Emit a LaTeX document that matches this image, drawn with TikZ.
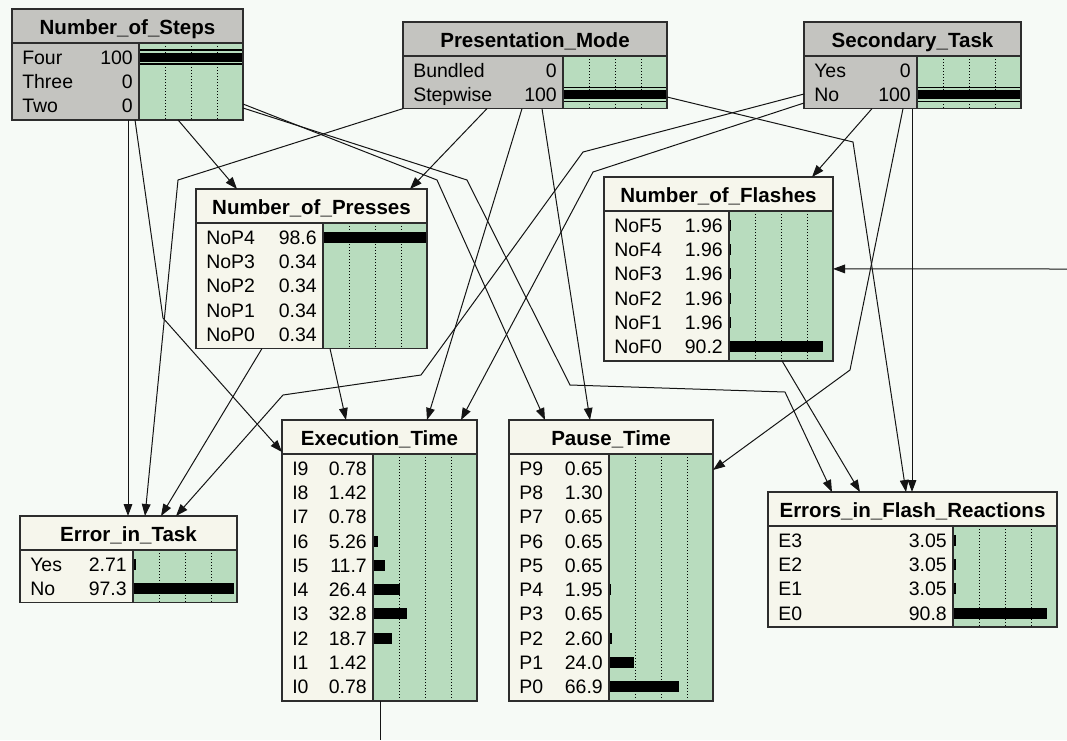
\documentclass[tikz,border=0pt]{standalone}
\usepackage{fontspec}
\setmainfont{Liberation Sans}
\usetikzlibrary{arrows.meta,calc}

\definecolor{bgc}{RGB}{246,250,246}
\definecolor{nodegray}{RGB}{196,196,192}
\definecolor{nodecream}{RGB}{246,246,236}
\definecolor{bargreen}{RGB}{184,220,190}
\definecolor{boxc}{RGB}{45,45,45}
\definecolor{linec}{RGB}{20,20,20}

\tikzset{
  boxline/.style={draw=boxc, line width=1.1pt},
  dotline/.style={draw=black, line width=0.75pt, dash pattern=on 0.75pt off 1.5pt},
  lbl/.style={inner sep=0pt, font=\fontsize{14.6}{16}\selectfont},
  ttl/.style={inner sep=0pt, font=\fontsize{15.4}{17}\selectfont\bfseries},
  link/.style={draw=linec, line width=0.75pt, -{Triangle[length=9pt,width=6.5pt]}},
  plainlink/.style={draw=linec, line width=0.75pt},
}

% Belief-bar box: #1 name, #2 left, #3 top, #4 right, #5 number of states,
% #6 fill of title and label area, #7 title, #8 rows label/value/percent/evidence
\newcommand\bnbox[8]{%
  \pgfmathsetmacro\bntb{#3+34}%
  \pgfmathsetmacro\bnbot{#3+38+24.3*#5}%
  \pgfmathsetmacro\bnsep{#4-104}%
  \fill[#6] (#2,#3) rectangle (#4,\bnbot);
  \fill[bargreen] (\bnsep,\bntb) rectangle (#4,\bnbot);
  \foreach \k in {1,2,3} \draw[dotline] ({\bnsep+26*\k},\bntb) -- ({\bnsep+26*\k},\bnbot);
  \foreach \lab/\val/\pct/\ev [count=\i from 0] in {#8} {%
    \pgfmathsetmacro\bncy{\bntb+2+24.3*(\i+0.5)}%
    \node[lbl,anchor=base west] at (#2+10,\bncy+7) {\lab};
    \node[lbl,anchor=base east] at (\bnsep-6,\bncy+7) {\val};
    \ifnum\ev=1
      \fill (\bnsep,\bncy-4.5) rectangle (#4,\bncy+4.5);
      \draw[line width=1.1pt] (\bnsep,\bncy-7) -- (#4,\bncy-7) (\bnsep,\bncy+7) -- (#4,\bncy+7);
    \fi
    \ifdim\pct pt>1pt
      \fill (\bnsep,\bncy-5.5) rectangle ({\bnsep+1.04*\pct},\bncy+5.5);
    \fi
  }
  \draw[boxline] (#2,\bntb) -- (#4,\bntb) (\bnsep,\bntb) -- (\bnsep,\bnbot);
  \node[boxline, inner sep=0pt, outer sep=0pt, anchor=north west,
        minimum width={(#4-#2)*0.75pt}, minimum height={(\bnbot-#3)*0.75pt}] (#1) at (#2,#3) {};
  \node[ttl,anchor=base] at ({(#2+#4)/2},#3+25) {#7};
}

\begin{document}
\begin{tikzpicture}[x=0.75pt,y=-0.75pt]
\fill[bgc] (0,0) rectangle (1067,740);
\useasboundingbox (0,0) rectangle (1067,740);

% parent nodes with findings
\bnbox{steps}{12}{9}{243}{3}{nodegray}{Number\_of\_Steps}{Four/100/0/1, Three/0/0/0, Two/0/0/0}
\bnbox{pm}{403}{22}{667}{2}{nodegray}{Presentation\_Mode}{Bundled/0/0/0, Stepwise/100/0/1}
\bnbox{st}{804}{22}{1021}{2}{nodegray}{Secondary\_Task}{Yes/0/0/0, No/100/0/1}

% intermediate nodes
\bnbox{nop}{196}{189}{427}{5}{nodecream}{Number\_of\_Presses}{NoP4/98.6/98.6/0, NoP3/0.34/0.34/0, NoP2/0.34/0.34/0, NoP1/0.34/0.34/0, NoP0/0.34/0.34/0}
\bnbox{nof}{604}{177}{833}{6}{nodecream}{Number\_of\_Flashes}{NoF5/1.96/1.96/0, NoF4/1.96/1.96/0, NoF3/1.96/1.96/0, NoF2/1.96/1.96/0, NoF1/1.96/1.96/0, NoF0/90.2/90.2/0}

% outcome nodes
\bnbox{et}{282}{420}{477}{10}{nodecream}{Execution\_Time}{I9/0.78/0.78/0, I8/1.42/1.42/0, I7/0.78/0.78/0, I6/5.26/5.26/0, I5/11.7/11.7/0, I4/26.4/26.4/0, I3/32.8/32.8/0, I2/18.7/18.7/0, I1/1.42/1.42/0, I0/0.78/0.78/0}
\bnbox{pt}{509}{420}{713}{10}{nodecream}{Pause\_Time}{P9/0.65/0.65/0, P8/1.30/1.30/0, P7/0.65/0.65/0, P6/0.65/0.65/0, P5/0.65/0.65/0, P4/1.95/1.95/0, P3/0.65/0.65/0, P2/2.60/2.60/0, P1/24.0/24.0/0, P0/66.9/66.9/0}
\bnbox{eit}{20}{516}{237}{2}{nodecream}{Error\_in\_Task}{Yes/2.71/2.71/0, No/97.3/97.3/0}
\bnbox{efr}{768}{492}{1057}{4}{nodecream}{Errors\_in\_Flash\_Reactions}{E3/3.05/3.05/0, E2/3.05/3.05/0, E1/3.05/3.05/0, E0/90.8/90.8/0}

\coordinate (ext) at (1067,269);
\coordinate (etout) at (380,740);

% links from Number_of_Steps
\draw[link] ($(steps.south west)+(116,0)$) -- ($(eit.north west)+(108,0)$);
\draw[link] ($(steps.south west)+(166,0)$) -- ($(nop.north west)+(41,0)$);
\draw[link] ($(steps.south west)+(123,0)$) -- (163,318) -- ($(et.north west)+(0,32)$);
\draw[link] ($(steps.north east)+(0,95)$) -- (437,180) -- ($(pt.north west)+(36,0)$);
\draw[link] ($(steps.north east)+(0,99)$) -- (467,180) -- (570,385) -- (785,392) -- ($(efr.north west)+(64,0)$);

% links from Presentation_Mode
\draw[link] ($(pm.south west)+(84,0)$) -- ($(nop.north west)+(214,0)$);
\draw[link] (pm.south west) -- (178,180) -- ($(eit.north west)+(125,0)$);
\draw[link] ($(pm.south west)+(119,0)$) -- ($(et.north west)+(145,0)$);
\draw[link] ($(pm.south west)+(139,0)$) -- ($(pt.north west)+(81,0)$);
\draw[link] ($(pm.north east)+(0,75)$) -- (853,142) -- ($(efr.north west)+(138,0)$);

% links from Secondary_Task
\draw[link] ($(st.south west)+(68,0)$) -- ($(nof.north west)+(208,0)$);
\draw[link] ($(st.north west)+(0,72)$) -- (583,152) -- (421,375) -- (283,395) -- ($(eit.north west)+(156,0)$);
\draw[link] ($(st.north west)+(0,81)$) -- (593,172) -- ($(et.north west)+(179,0)$);
\draw[link] ($(st.south west)+(99,0)$) -- (850,370) -- ($(pt.north east)+(0,50)$);
\draw[link] ($(st.south west)+(108,0)$) -- ($(efr.north west)+(144,0)$);

% links from the intermediate nodes
\draw[link] ($(nop.south west)+(66,0)$) -- ($(eit.north west)+(141,0)$);
\draw[link] ($(nop.south west)+(134,0)$) -- ($(et.north west)+(64,0)$);
\draw[link] ($(nof.south west)+(178,0)$) -- ($(efr.north west)+(92,0)$);

% links leaving the drawing area
\draw[link] (ext) -- (nof.east);
\draw[plainlink] ($(et.south west)+(98,0)$) -- (etout);
\end{tikzpicture}
\end{document}
